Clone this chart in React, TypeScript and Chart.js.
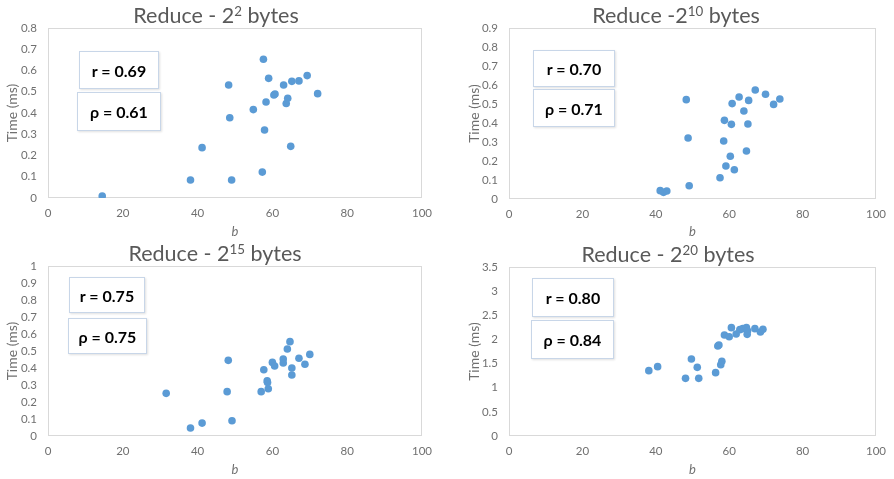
import React, { useEffect, useRef } from "react";
import { Chart, registerables } from "chart.js";

Chart.register(...registerables);

// ---- data ----
const xTickValues = [0, 20, 40, 60, 80, 100];

const b_2p2 = [14.5, 38.1, 41.2, 48.3, 48.6, 49.1, 54.9, 57.6, 57.3, 57.9, 58.3, 59.0, 60.4, 60.7, 63.0, 63.7, 64.1, 64.9, 65.2, 67.1, 69.3, 72.1];
const t_2p2 = [0.009, 0.085, 0.237, 0.532, 0.378, 0.085, 0.416, 0.653, 0.122, 0.32, 0.452, 0.563, 0.485, 0.489, 0.532, 0.445, 0.469, 0.243, 0.549, 0.551, 0.576, 0.491];

const b_2p10 = [41.2, 42.1, 43.0, 48.3, 48.8, 49.1, 57.5, 58.5, 58.7, 59.1, 60.3, 60.6, 60.8, 61.4, 62.7, 64.0, 64.7, 65.1, 65.3, 67.1, 69.9, 72.1, 73.8];
const t_2p10 = [0.044, 0.035, 0.042, 0.523, 0.321, 0.07, 0.112, 0.305, 0.414, 0.174, 0.225, 0.393, 0.502, 0.154, 0.537, 0.463, 0.253, 0.395, 0.519, 0.574, 0.551, 0.498, 0.526];

const b_2p15 = [31.6, 38.1, 41.2, 47.9, 48.2, 49.2, 57.0, 57.7, 58.6, 58.7, 58.9, 60.0, 60.6, 62.9, 62.9, 64.0, 64.7, 65.2, 65.2, 67.1, 68.7, 70.0];
const t_2p15 = [0.251, 0.047, 0.076, 0.261, 0.445, 0.09, 0.261, 0.39, 0.324, 0.314, 0.278, 0.433, 0.412, 0.453, 0.429, 0.512, 0.555, 0.4, 0.359, 0.457, 0.422, 0.48];

const b_2p20 = [38.1, 40.5, 48.1, 49.7, 51.3, 51.7, 56.3, 56.9, 57.2, 57.7, 58.0, 58.7, 60.0, 60.6, 61.9, 62.9, 63.7, 64.7, 65.0, 64.9, 67.0, 68.5, 69.2];
const t_2p20 = [1.353, 1.436, 1.194, 1.595, 1.422, 1.194, 1.312, 1.864, 1.885, 1.477, 1.546, 2.092, 2.057, 2.244, 2.112, 2.202, 2.223, 2.244, 2.181, 2.105, 2.223, 2.154, 2.209];

const titleBase = ["Reduce - 2", "Reduce -2", "Reduce - 2", "Reduce - 2"];
const titleExp = ["2", "10", "15", "20"];
const titleTail = " bytes";
const rLabels = ["r = 0.69", "r = 0.70", "r = 0.75", "r = 0.80"];
const rhoLabels = ["ρ = 0.61", "ρ = 0.71", "ρ = 0.75", "ρ = 0.84"];
const yMaxes = [0.8, 0.9, 1, 3.5];
const ySteps = [0.1, 0.1, 0.1, 0.5];
const yAxisTitle = "Time (ms)";
const xAxisTitle = "b";

const seriesB = [b_2p2, b_2p10, b_2p15, b_2p20];
const seriesT = [t_2p2, t_2p10, t_2p15, t_2p20];

// ---- layout / style ----
const FONT = "Lato, 'Open Sans', 'DejaVu Sans', sans-serif";
const GRAY = "#707070";
const DOT = "#5B9BD5";

const layouts = [
  { x: 0, y: 0, w: 440, h: 240, top: 28, right: 18, yw: 48, xh: 42, yTitlePad: 4.3, xTitleBottom: 0,
    title: { cx: 216, cy: 15 },
    rBox: { x: 79, y: 51, w: 80, h: 38 }, rhoBox: { x: 77, y: 92, w: 84, h: 39 } },
  { x: 447, y: 0, w: 447, h: 240, top: 28, right: 12, yw: 62, xh: 41, yTitlePad: 18.6, xTitleBottom: 0,
    title: { cx: 676, cy: 15 },
    rBox: { x: 533, y: 50, w: 82, h: 37 }, rhoBox: { x: 533, y: 89, w: 82, h: 38 } },
  { x: 0, y: 240, w: 440, h: 239, top: 26, right: 18, yw: 48, xh: 43, yTitlePad: 4.3, xTitleBottom: 1,
    title: { cx: 215, cy: 253 },
    rBox: { x: 69, y: 277, w: 76, h: 36 }, rhoBox: { x: 68, y: 318, w: 79, h: 36 } },
  { x: 447, y: 240, w: 447, h: 239, top: 27, right: 13, yw: 62, xh: 43, yTitlePad: 18.6, xTitleBottom: 1,
    title: { cx: 668, cy: 254 },
    rBox: { x: 532, y: 278, w: 82, h: 39 }, rhoBox: { x: 531, y: 320, w: 83, h: 39 } },
];

const framePlugin = {
  id: "plotFrame",
  beforeDatasetsDraw(chart: any) {
    const { ctx, chartArea } = chart;
    const { left, top, right, bottom } = chartArea;
    ctx.save();
    ctx.strokeStyle = "#d9d9d9";
    ctx.lineWidth = 1;
    ctx.strokeRect(Math.round(left) + 0.5, Math.round(top) + 0.5, Math.round(right - left) - 1, Math.round(bottom - top) - 1);
    ctx.restore();
  },
};

function fmt(v: number) {
  return String(Number(Number(v).toFixed(2)));
}

function Panel({ i }: { i: number }) {
  const ref = useRef<HTMLCanvasElement | null>(null);
  const L = layouts[i];
  useEffect(() => {
    if (!ref.current) return;
    const pts = seriesB[i].map((b, k) => ({ x: b, y: seriesT[i][k] }));
    const chart = new Chart(ref.current, {
      type: "scatter",
      data: {
        datasets: [
          {
            data: pts,
            backgroundColor: DOT,
            borderColor: DOT,
            borderWidth: 0,
            pointRadius: 3.8,
            pointHoverRadius: 3.8,
          },
        ],
      },
      options: {
        responsive: false,
        maintainAspectRatio: false,
        animation: false,
        events: [],
        layout: { padding: { top: L.top, right: L.right, left: 0, bottom: 0 } },
        plugins: {
          legend: { display: false },
          tooltip: { enabled: false },
          title: { display: false },
        },
        scales: {
          x: {
            type: "linear",
            min: 0,
            max: 100,
            afterBuildTicks: (s: any) => {
              s.ticks = xTickValues.map((v) => ({ value: v }));
            },
            ticks: { color: GRAY, padding: 8, autoSkip: false, maxRotation: 0, font: { family: FONT, size: 11.5 }, callback: (v: any) => fmt(v) },
            grid: { display: false, drawTicks: false },
            border: { display: false },
            title: {
              display: true,
              text: xAxisTitle,
              color: GRAY,
              font: { family: FONT, size: 13, style: "italic" },
              padding: { top: 0, bottom: L.xTitleBottom },
            },
            afterFit: (s: any) => {
              s.height = L.xh;
            },
          },
          y: {
            type: "linear",
            min: 0,
            max: yMaxes[i],
            ticks: { stepSize: ySteps[i], color: GRAY, padding: 11, autoSkip: false, font: { family: FONT, size: 11.5 }, callback: (v: any) => fmt(v) },
            grid: { display: false, drawTicks: false },
            border: { display: false },
            title: {
              display: true,
              text: yAxisTitle,
              color: GRAY,
              font: { family: FONT, size: 14 },
              padding: { top: L.yTitlePad, bottom: 0 },
            },
            afterFit: (s: any) => {
              s.width = L.yw;
            },
          },
        },
      } as any,
      plugins: [framePlugin],
    });
    return () => chart.destroy();
  }, [i]);

  const boxStyle = (b: { x: number; y: number; w: number; h: number }): React.CSSProperties => ({
    position: "absolute",
    left: b.x,
    top: b.y,
    width: b.w,
    height: b.h,
    boxSizing: "border-box",
    border: "1px solid #c8d6e8",
    background: "#ffffff",
    boxShadow: "1px 1px 2px rgba(0,0,0,0.12)",
    display: "flex",
    alignItems: "center",
    justifyContent: "center",
    fontFamily: FONT,
    fontWeight: 700,
    fontSize: 16,
    color: "#000",
    whiteSpace: "nowrap",
  });

  return (
    <>
      <canvas
        ref={ref}
        width={L.w}
        height={L.h}
        style={{ position: "absolute", left: L.x, top: L.y, width: L.w, height: L.h }}
      />
      <div
        style={{
          position: "absolute",
          left: L.title.cx - 120,
          top: L.title.cy - 14,
          width: 240,
          height: 28,
          lineHeight: "28px",
          textAlign: "center",
          fontFamily: FONT,
          fontSize: 21.5,
          color: "#595959",
          whiteSpace: "nowrap",
        }}
      >
        {titleBase[i]}
        <sup style={{ fontSize: "0.62em", verticalAlign: "0.55em", lineHeight: 0 }}>{titleExp[i]}</sup>
        {titleTail}
      </div>
      <div style={boxStyle(L.rBox)}>{rLabels[i]}</div>
      <div style={boxStyle(L.rhoBox)}>{rhoLabels[i]}</div>
    </>
  );
}

export default function App() {
  return (
    <div
      style={{
        position: "fixed",
        left: 0,
        top: 0,
        width: 894,
        height: 479,
        background: "#ffffff",
        overflow: "hidden",
      }}
    >
      {[0, 1, 2, 3].map((i) => (
        <Panel key={i} i={i} />
      ))}
    </div>
  );
}
